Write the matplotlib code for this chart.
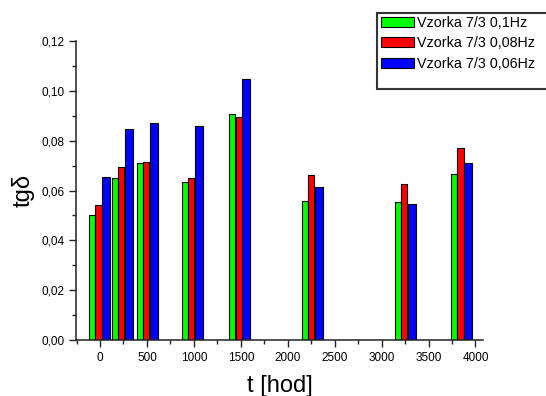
import matplotlib
matplotlib.use("Agg")
import matplotlib.pyplot as plt
from matplotlib.ticker import MultipleLocator, FuncFormatter
from matplotlib.patches import Rectangle
import numpy as np

plt.rcParams['font.family'] = ['Liberation Sans', 'DejaVu Sans']

# časy měření [hod]
t_hod = [-15, 225, 490, 970, 1480, 2250, 3240, 3840]

# tg delta pro jednotlivé frekvence
tg_01hz = [0.0500, 0.0650, 0.0711, 0.0633, 0.0906, 0.0559, 0.0555, 0.0668]
tg_008hz = [0.0540, 0.0694, 0.0715, 0.0652, 0.0896, 0.0664, 0.0628, 0.0772]
tg_006hz = [0.0655, 0.0847, 0.0871, 0.0859, 0.1047, 0.0616, 0.0544, 0.0712]

labels = ["Vzorka 7/3 0,1Hz", "Vzorka 7/3 0,08Hz", "Vzorka 7/3 0,06Hz"]
colors = ["#00ff00", "#ff0000", "#0000ff"]

fig = plt.figure(figsize=(5.46, 3.96), dpi=100)
ax = fig.add_axes([0.1392, 0.1414, 0.7454, 0.755])

t = np.array(t_hod)
series = [tg_01hz, tg_008hz, tg_006hz]
offsets = [-69, 0, 80]
widths = [64, 68, 85]
handles = []
for vals, off, w, c, lab in zip(series, offsets, widths, colors, labels):
    b = ax.bar(t + off, vals, width=w, color=c, edgecolor="black",
               linewidth=0.8, label=lab)
    handles.append(b)

ax.set_xlim(-256, 4080)
ax.set_ylim(0, 0.12)

ax.xaxis.set_major_locator(MultipleLocator(500))
ax.xaxis.set_minor_locator(MultipleLocator(250))
ax.yaxis.set_major_locator(MultipleLocator(0.02))
ax.yaxis.set_minor_locator(MultipleLocator(0.01))
ax.yaxis.set_major_formatter(FuncFormatter(lambda v, p: f"{v:.2f}".replace(".", ",")))

ax.tick_params(which="major", direction="out", length=5, width=1, labelsize=8.5, color="#222222")
ax.tick_params(which="minor", direction="out", length=3, width=1, color="#222222")

for s in ["top", "right"]:
    ax.spines[s].set_visible(False)
for s in ["left", "bottom"]:
    ax.spines[s].set_linewidth(1.1)
    ax.spines[s].set_color("#222222")

ax.set_xlabel("t [hod]", fontsize=17, labelpad=8)
ax.set_ylabel("tgδ", fontsize=17, labelpad=5)

# rámeček legendy
fig.add_artist(Rectangle((377 / 546, 1 - 89 / 396), 0.4, 76 / 396,
                         transform=fig.transFigure, facecolor="white",
                         edgecolor="#333333", linewidth=1.5))
fig.legend(handles=handles, loc="upper left",
           bbox_to_anchor=(381 / 546, 1 - 16 / 396), frameon=False,
           fontsize=10.3, handlelength=2.3, handleheight=0.7,
           handletextpad=0.25, labelspacing=0.45, borderaxespad=0,
           borderpad=0)

fig.savefig("out.png", dpi=100)
